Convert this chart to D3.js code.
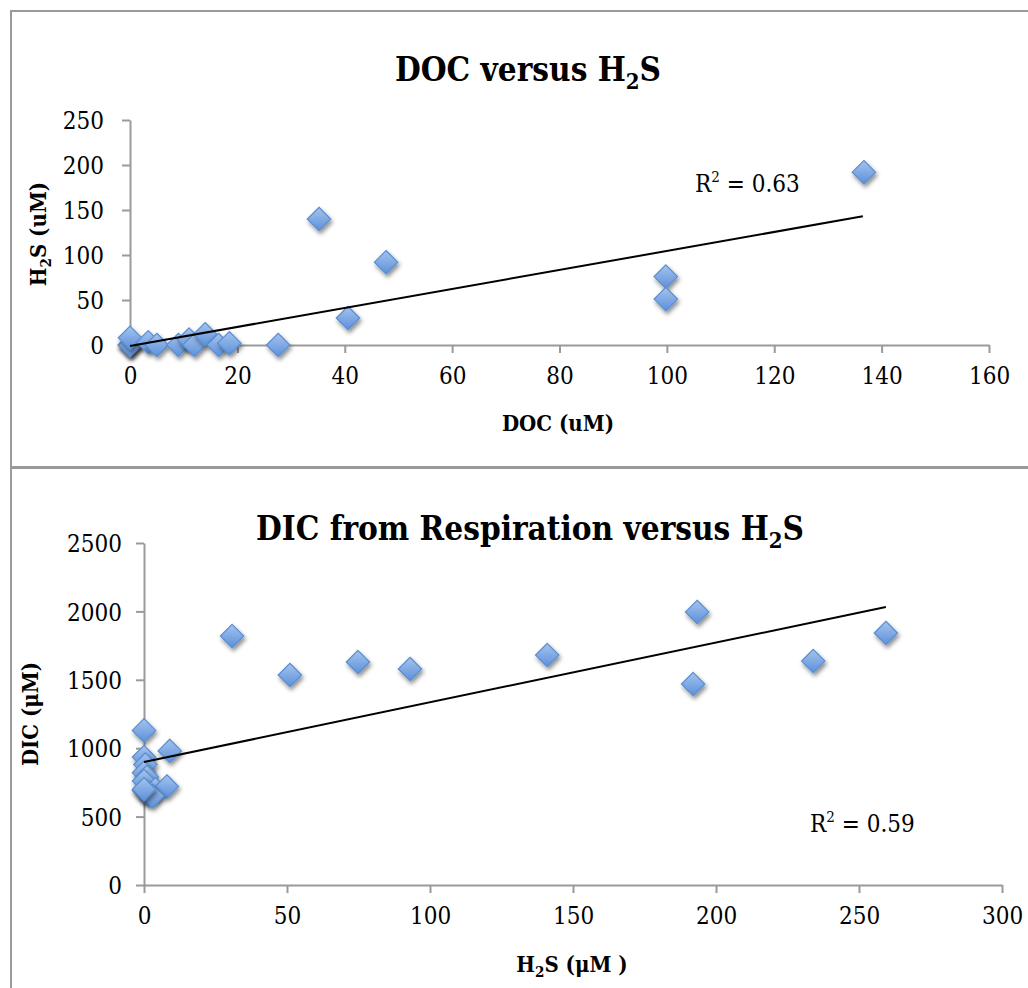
<!DOCTYPE html>
<html>
<head>
<meta charset="utf-8">
<script src="https://cdn.jsdelivr.net/npm/d3@7"></script>
<style>
  body { margin: 0; background: #fff; }
  svg { display: block; }
  text { font-family: "DejaVu Serif Condensed", "DejaVu Serif", serif; fill: #000; }
</style>
</head>
<body>
<svg id="chart" width="1028" height="988"></svg>
<script>
// top panel: DOC vs H2S
const docX = [0, 0, 0, 0, 3.4, 5, 9, 11, 12, 14, 16.5, 18.5, 27.6, 35.2, 40.6, 47.7, 99.8, 99.8, 136.7];
const docY = [0, 0, 0, 8, 3, 0, 0, 6, 0, 12, 0, 2, 0, 140, 30, 92, 76, 51, 192];
const docTicksX = [0, 20, 40, 60, 80, 100, 120, 140, 160];
const docTicksY = [0, 50, 100, 150, 200, 250];
const docTrend = [[0, -1], [136.5, 143]];

// bottom panel: H2S vs DIC
const h2sX = [0, 0, 0.5, 9, 0, 1, 0, 0, 1.5, 4, 8, 3, 0, 30.8, 51, 74.8, 93, 141, 193.4, 192, 234, 259.4];
const dicY = [1130, 935, 880, 980, 820, 790, 760, 690, 660, 700, 720, 650, 700, 1820, 1535, 1630, 1579, 1681, 1996, 1469, 1637, 1842];
const dicTicksX = [0, 50, 100, 150, 200, 250, 300];
const dicTicksY = [0, 500, 1000, 1500, 2000, 2500];
const dicTrend = [[0, 899], [259.4, 2032]];

const svg = d3.select("#chart");

const defs = svg.append("defs");
const grad = defs.append("linearGradient")
    .attr("id", "blueFill").attr("x1", 0).attr("y1", 0).attr("x2", 0).attr("y2", 1);
grad.append("stop").attr("offset", "0%").attr("stop-color", "#a6c4ee");
grad.append("stop").attr("offset", "100%").attr("stop-color", "#5b90da");
const shadow = defs.append("filter").attr("id", "shadow")
    .attr("x", "-50%").attr("y", "-50%").attr("width", "200%").attr("height", "200%");
shadow.append("feDropShadow")
    .attr("dx", 1.5).attr("dy", 3).attr("stdDeviation", 2)
    .attr("flood-color", "#000").attr("flood-opacity", 0.45);

const diamond = d3.symbol().type(d3.symbolDiamond2).size(350);

function panel(opt) {
  const g = svg.append("g");

  // frame
  g.append("rect")
      .attr("x", opt.frame[0]).attr("y", opt.frame[1])
      .attr("width", opt.frame[2]).attr("height", opt.frame[3])
      .attr("fill", "#fff").attr("stroke", "#9a9a9a").attr("stroke-width", 2);

  const x = d3.scaleLinear().domain(opt.xDomain).range(opt.xRange);
  const y = d3.scaleLinear().domain(opt.yDomain).range(opt.yRange);

  const xAxis = g.append("g")
      .attr("transform", `translate(0,${y(0)})`)
      .call(d3.axisBottom(x).tickValues(opt.xTicks).tickFormat(d3.format("d"))
        .tickSize(8).tickPadding(14).tickSizeOuter(0));
  const yAxis = g.append("g")
      .attr("transform", `translate(${x(0)},0)`)
      .call(d3.axisLeft(y).tickValues(opt.yTicks).tickFormat(d3.format("d"))
        .tickSize(8).tickPadding(opt.yPad).tickSizeOuter(0));

  [xAxis, yAxis].forEach(a => {
    a.select(".domain").attr("stroke", "#9a9a9a").attr("stroke-width", 2);
    a.selectAll(".tick line").attr("stroke", "#9a9a9a").attr("stroke-width", 2);
    a.selectAll(".tick text").attr("font-size", 24)
        .style("font-family", '"DejaVu Serif Condensed", "DejaVu Serif", serif');
  });
  yAxis.selectAll(".tick text").attr("dy", "0.36em");

  // points
  g.append("g").selectAll("path")
      .data(opt.xs.map((v, i) => [v, opt.ys[i]]))
      .join("path")
      .attr("transform", d => `translate(${x(d[0])},${y(d[1])})`)
      .attr("d", diamond)
      .attr("fill", "url(#blueFill)")
      .attr("stroke", "#5a8ed0")
      .attr("stroke-width", 1.2)
      .attr("filter", "url(#shadow)");

  // linear trendline
  g.append("line")
      .attr("x1", x(opt.trend[0][0])).attr("y1", y(opt.trend[0][1]))
      .attr("x2", x(opt.trend[1][0])).attr("y2", y(opt.trend[1][1]))
      .attr("stroke", "#000").attr("stroke-width", 2);

  // title
  const t = g.append("text")
      .attr("x", opt.titlePos[0]).attr("y", opt.titlePos[1])
      .attr("text-anchor", "middle").attr("font-size", 33).attr("font-weight", "bold");
  t.append("tspan").text(opt.title);
  t.append("tspan").attr("font-size", 22).attr("dy", 8).text("2");
  t.append("tspan").attr("dy", -8).text("S");

  // x label
  const xl = g.append("text")
      .attr("x", opt.xLabelPos[0]).attr("y", opt.xLabelPos[1])
      .attr("text-anchor", "middle").attr("font-size", 22).attr("font-weight", "bold");
  opt.xLabel.forEach(p => {
    const s = xl.append("tspan").text(p.t);
    if (p.sub) s.attr("font-size", 15).attr("dy", 5);
    if (p.up) s.attr("dy", -5);
  });

  // y label
  const yl = g.append("text")
      .attr("transform", `translate(${opt.yLabelPos[0]},${opt.yLabelPos[1]}) rotate(-90)`)
      .attr("text-anchor", "middle").attr("font-size", 22).attr("font-weight", "bold");
  opt.yLabel.forEach(p => {
    const s = yl.append("tspan").text(p.t);
    if (p.sub) s.attr("font-size", 15).attr("dy", 5);
    if (p.up) s.attr("dy", -5);
  });

  // R squared
  const r = g.append("text")
      .attr("x", opt.rPos[0]).attr("y", opt.rPos[1]).attr("font-size", 24);
  r.append("tspan").text("R");
  r.append("tspan").attr("font-size", 15).attr("dy", -10).text("2");
  r.append("tspan").attr("dy", 10).text(" = " + opt.r2);
}

panel({
  frame: [11, 11, 1040, 456],
  xDomain: [0, 160], xRange: [130, 989],
  yDomain: [0, 250], yRange: [345, 120],
  xTicks: docTicksX, yTicks: docTicksY, yPad: 18,
  xs: docX, ys: docY, trend: docTrend,
  title: "DOC versus H", titlePos: [528, 81],
  xLabel: [{t: "DOC (uM)"}], xLabelPos: [558, 431],
  yLabel: [{t: "H"}, {t: "2", sub: true}, {t: "S (uM)", up: true}], yLabelPos: [46, 234],
  rPos: [695, 192], r2: "0.63"
});

panel({
  frame: [11, 468, 1040, 540],
  xDomain: [0, 300], xRange: [144, 1002],
  yDomain: [0, 2500], yRange: [885, 543],
  xTicks: dicTicksX, yTicks: dicTicksY, yPad: 14,
  xs: h2sX, ys: dicY, trend: dicTrend,
  title: "DIC from Respiration versus H", titlePos: [530, 540],
  xLabel: [{t: "H"}, {t: "2", sub: true}, {t: "S (μM )", up: true}], xLabelPos: [572, 972],
  yLabel: [{t: "DIC (μM)"}], yLabelPos: [38, 714],
  rPos: [810, 832], r2: "0.59"
});
</script>
</body>
</html>
